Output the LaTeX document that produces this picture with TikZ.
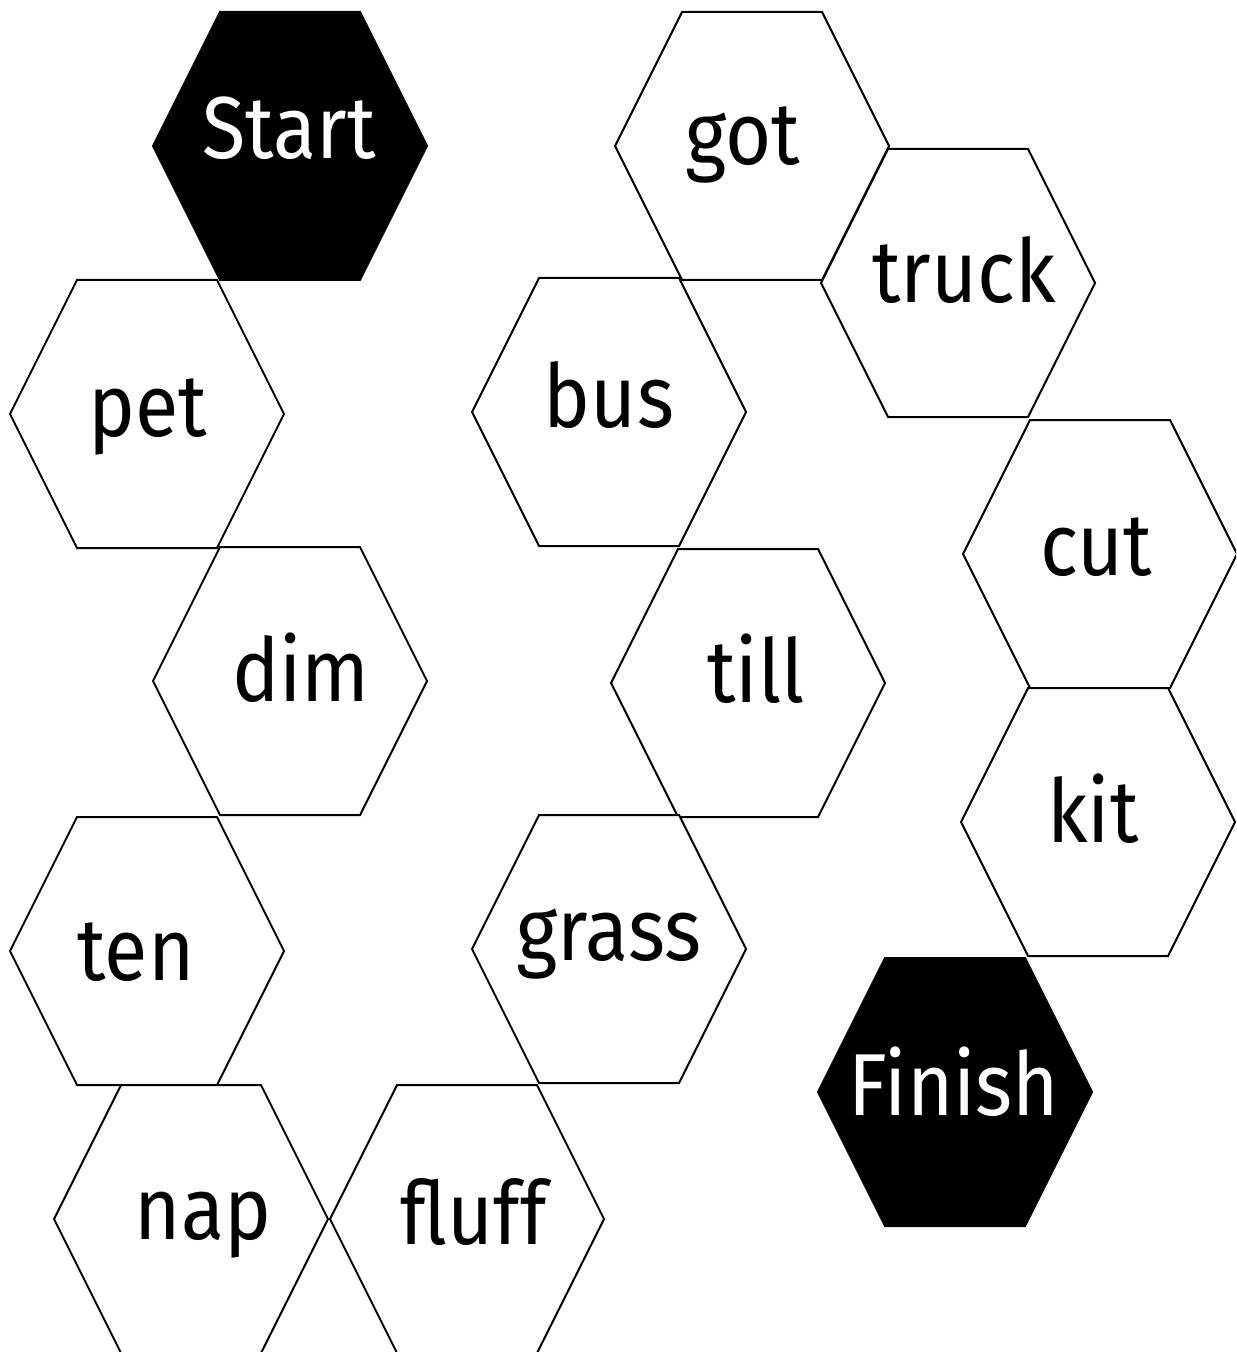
\documentclass[tikz,border=0pt]{standalone}
\usepackage{fontspec}
\setmainfont[FakeStretch=0.9]{Fira Sans}
\tikzset{
  word/.style = {anchor=base, inner sep=0pt, font=\fontsize{44}{50}\selectfont},
}
\begin{document}
\begin{tikzpicture}[x = 0.5pt, y = -0.5pt, line width = 1pt, line join = miter]
\useasboundingbox (0, 0) rectangle (1236, 1352);
\clip (0, 0) rectangle (1236, 1352);

% the cells
\foreach \x/\y/\shade in {290/146/black, 752/146/white, 958/283/white,
    147/414/white, 609/412/white, 1100/554/white, 290/681/white,
    748/683/white, 1098/822/white, 609/949/white, 147/951/white,
    955/1092/black, 191/1219/white, 467/1219/white} {
  \begin{scope}[shift={(\x, \y)}]
    \filldraw[fill=\shade] (-137, 0) -- (-70, -134) -- (70, -134) -- (137, 0)
          -- (70, 134) -- (-70, 134) -- cycle;
  \end{scope}
}

% the words
\foreach \n/\x/\y/\ink in {Start/289/159/white, got/743/165/black,
    truck/964/303/black, pet/148/437/black, bus/609/427/black,
    cut/1096/575/black, dim/301/701/black, till/756/702/black,
    kit/1093/842/black, grass/609/960/black, ten/136/980/black,
    Finish/954/1115/white, nap/203/1239/black, fluff/474/1244/black} {
  \node[word, text=\ink] (\n) at (\x, \y) {\n};
}

\end{tikzpicture}
\end{document}
